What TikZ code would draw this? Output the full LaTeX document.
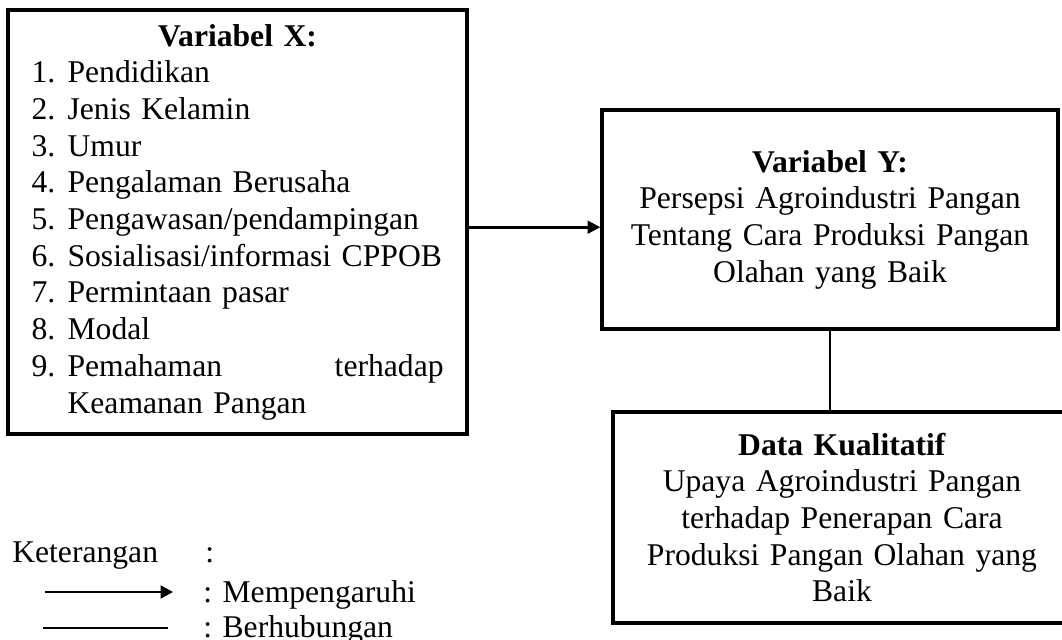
\documentclass[tikz,border=0pt]{standalone}
\usepackage{fontspec}
\setmainfont{Liberation Serif}
\usetikzlibrary{arrows.meta, positioning, calc}
\newcommand{\fs}{\fontsize{22.5}{26.1}\selectfont}
\newcommand{\itm}[2]{\makebox[0.9cm][l]{#1.}#2}
\tikzset{
  box/.style={rectangle, draw=black, line width=2.4pt, align=center,
    font=\fs, inner sep=0pt},
  arrow/.style={-{Triangle[length=9pt, width=9pt]}, line width=2pt, color=black},
  line/.style={draw, line width=2pt, color=black},
  legtext/.style={anchor=base west, font=\fs, inner sep=0pt}
}

\begin{document}
\begin{tikzpicture}
  \useasboundingbox (0,0) rectangle (26.55,-16);

  % Variabel X box
  \node[box, align=left, text width=10.3cm, minimum width=11.475cm, minimum height=10.6cm] (varx) at (5.94,-5.55) {
    \makebox[10.3cm]{\textbf{Variabel X:}}\\
    \itm{1}{Pendidikan}\\
    \itm{2}{Jenis Kelamin}\\
    \itm{3}{Umur}\\
    \itm{4}{Pengalaman Berusaha}\\
    \itm{5}{Pengawasan/pendampingan}\\
    \itm{6}{Sosialisasi/informasi CPPOB}\\
    \itm{7}{Permintaan pasar}\\
    \itm{8}{Modal}\\
    \itm{9}{Pemahaman\hfill terhadap}\\
    \hspace*{0.9cm}Keamanan Pangan
  };

  % Variabel Y box
  \node[box, text width=11cm, minimum width=11.4cm, minimum height=5.475cm] (vary) at (20.75,-5.4875) {
    \textbf{Variabel Y:}\\
    Persepsi Agroindustri Pangan\\
    Tentang Cara Produksi Pangan\\
    Olahan yang Baik
  };

  % Data kualitatif box
  \node[box, text width=11cm, minimum width=11.45cm, minimum height=5.275cm] (data) at (21.05,-12.94) {
    \textbf{Data Kualitatif}\\
    Upaya Agroindustri Pangan\\
    terhadap Penerapan Cara\\
    Produksi Pangan Olahan yang\\
    Baik
  };

  % connectors
  \draw[arrow] ([yshift=-0.13cm]varx.east) -- ([yshift=-0.13cm]varx.east -| vary.west);
  \draw[line] (vary.south) -- (vary.south |- data.north);

  % Keterangan
  \node[legtext] (ket) at (0.3,-14.05) {Keterangan};
  \node[legtext] (ketcolon) at (5.125,-14.05) {:};
  \coordinate (arrA) at (1.125,-14.8);
  \coordinate (arrB) at (4.33,-14.8);
  \draw[arrow] (arrA) -- (arrB);
  \node[legtext] (ketarrow) at (5.075,-15.05) {: Mempengaruhi};
  \coordinate (lnA) at (1.075,-15.7);
  \coordinate (lnB) at (4.2,-15.7);
  \draw[line] (lnA) -- (lnB);
  \node[legtext] (ketline) at (5.075,-15.93) {: Berhubungan};
\end{tikzpicture}
\end{document}
